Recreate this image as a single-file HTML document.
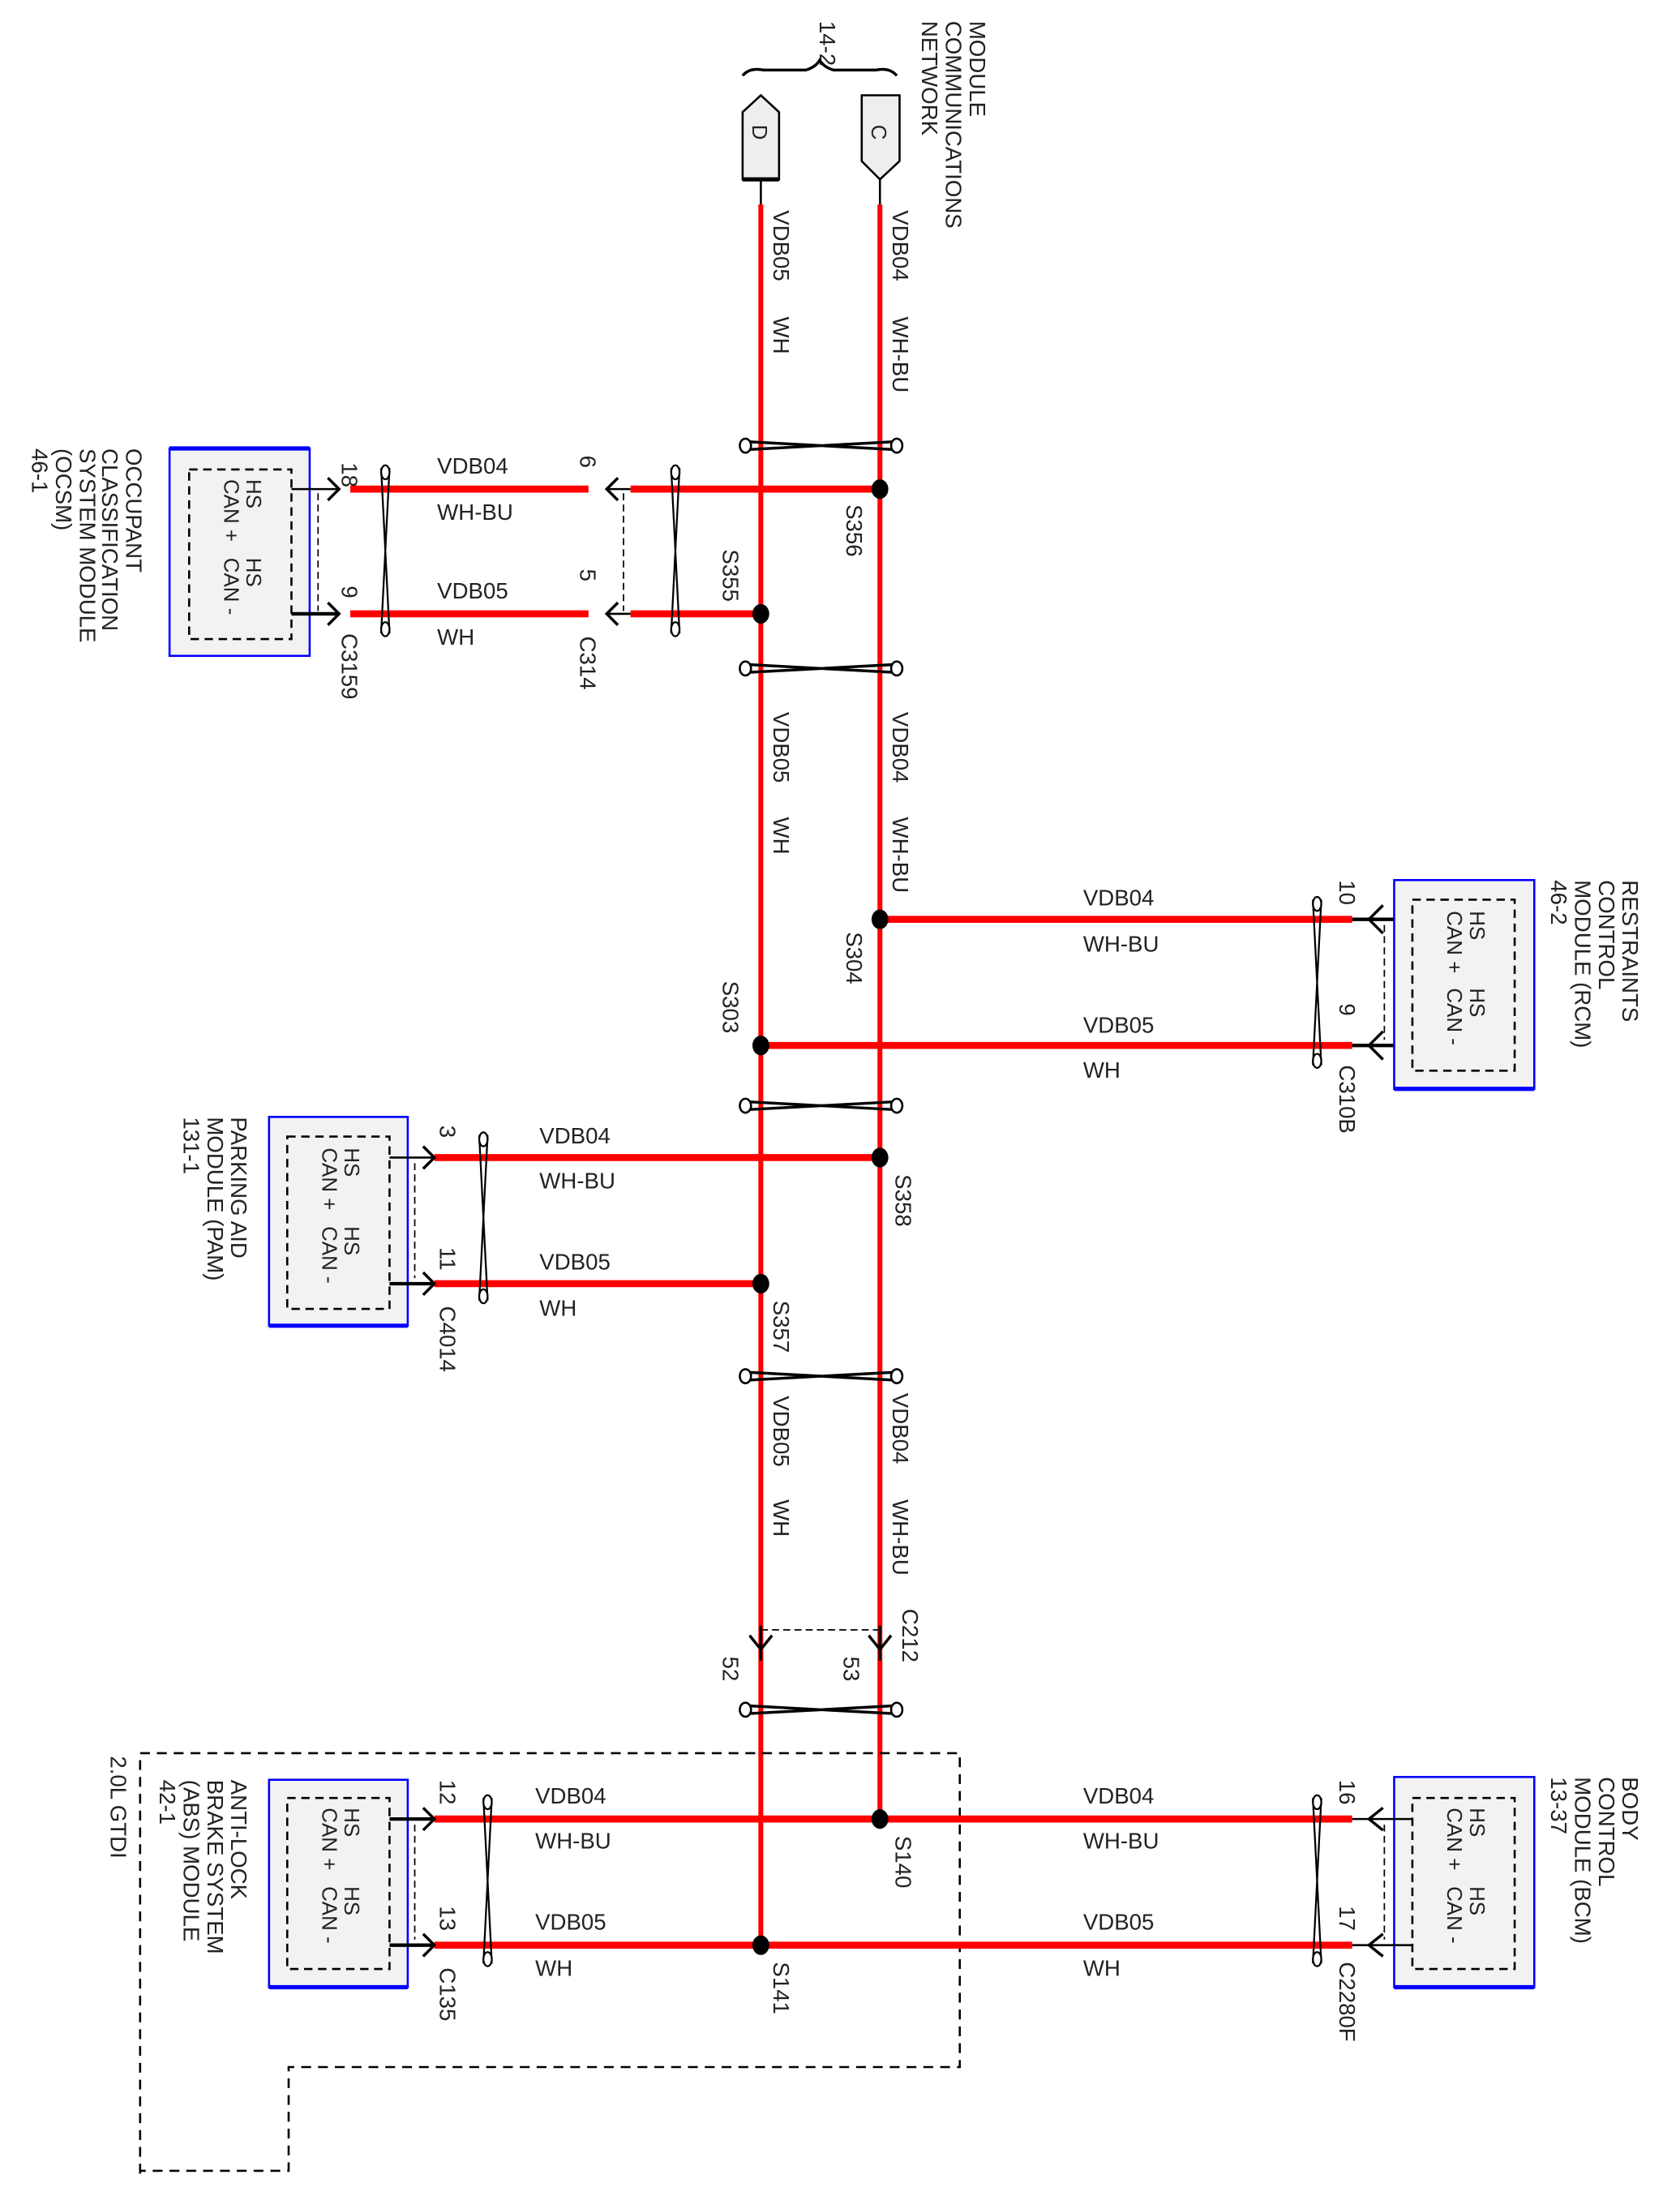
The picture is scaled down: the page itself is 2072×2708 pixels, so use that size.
<!DOCTYPE html>
<html><head><meta charset="utf-8"><style>
html,body{margin:0;padding:0;background:#fff}
svg{display:block}
text{font-family:"Liberation Sans",sans-serif;fill:#222}
</style></head><body>
<svg width="2072" height="2708" viewBox="0 0 1199 1567" preserveAspectRatio="none" xmlns="http://www.w3.org/2000/svg">
<defs>
<g id="tw">
<path d="M0,-3 L112,3 M0,3 L112,-3" stroke="#000" stroke-width="2" fill="none"/>
<ellipse cx="2" cy="0" rx="4" ry="5" fill="#fff" stroke="#000" stroke-width="1.5"/>
<ellipse cx="110" cy="0" rx="4" ry="5" fill="#fff" stroke="#000" stroke-width="1.5"/>
</g>
<g id="tv">
<path d="M-3,0 L3,118 M3,0 L-3,118" stroke="#000" stroke-width="1.3" fill="none"/>
<ellipse cx="0" cy="3" rx="3" ry="5" fill="#fff" stroke="#000" stroke-width="1.3"/>
<ellipse cx="0" cy="115" rx="3" ry="5" fill="#fff" stroke="#000" stroke-width="1.3"/>
</g>
</defs>

<g font-size="16">
<text transform="translate(692,15) rotate(90)">MODULE</text>
<text transform="translate(675,15) rotate(90)">COMMUNICATIONS</text>
<text transform="translate(658,15) rotate(90)">NETWORK</text>
<text transform="translate(585,15) rotate(90)">14-2</text>
</g>
<path d="M530,54 Q535,48 545,50 L575,50 Q582,48 585,43 Q588,48 595,50 L625,50 Q635,48 640,54" stroke="#000" stroke-width="2" fill="none"/>
<path d="M530,80 L543,68 L556,80 L556,128 L530,128 Z" fill="#eee" stroke="#000" stroke-width="1.5"/>
<line x1="530" y1="128" x2="556" y2="128" stroke="#000" stroke-width="3"/>
<text transform="translate(537,89) rotate(90)" font-size="15">D</text>
<path d="M615,68 L642,68 L642,115 L628,128 L615,115 Z" fill="#eee" stroke="#000" stroke-width="1.5"/>
<text transform="translate(622,89) rotate(90)" font-size="15">C</text>
<line x1="543" y1="128" x2="543" y2="146" stroke="#000" stroke-width="1.5"/>
<line x1="628" y1="128" x2="628" y2="146" stroke="#000" stroke-width="1.5"/>

<line x1="543" y1="146" x2="543" y2="1388" stroke="#f00" stroke-width="3.5"/>
<line x1="628" y1="146" x2="628" y2="1298" stroke="#f00" stroke-width="3.5"/>

<g font-size="16">
<text transform="translate(552,150) rotate(90)">VDB05</text>
<text transform="translate(552,226) rotate(90)">WH</text>
<text transform="translate(637,150) rotate(90)">VDB04</text>
<text transform="translate(637,226) rotate(90)">WH-BU</text>
<text transform="translate(552,508) rotate(90)">VDB05</text>
<text transform="translate(552,583) rotate(90)">WH</text>
<text transform="translate(637,508) rotate(90)">VDB04</text>
<text transform="translate(637,583) rotate(90)">WH-BU</text>
<text transform="translate(552,996) rotate(90)">VDB05</text>
<text transform="translate(552,1070) rotate(90)">WH</text>
<text transform="translate(637,994) rotate(90)">VDB04</text>
<text transform="translate(637,1070) rotate(90)">WH-BU</text>
</g>

<use href="#tw" x="530" y="318"/>
<use href="#tw" x="530" y="477"/>
<use href="#tw" x="530" y="789"/>
<use href="#tw" x="530" y="982"/>
<use href="#tw" x="530" y="1220"/>

<rect x="121" y="320" width="100" height="148" fill="#f2f2f2" stroke="#00f" stroke-width="1.5"/>
<line x1="121" y1="320" x2="221" y2="320" stroke="#00f" stroke-width="3"/>
<rect x="135" y="335" width="73" height="121" fill="none" stroke="#000" stroke-width="1.5" stroke-dasharray="6,4"/>
<g font-size="15">
<text transform="translate(176,342) rotate(90)">HS</text>
<text transform="translate(160,342) rotate(90)">CAN +</text>
<text transform="translate(176,398) rotate(90)">HS</text>
<text transform="translate(160,398) rotate(90)">CAN -</text>
</g>
<g font-size="16">
<text transform="translate(90,320) rotate(90)">OCCUPANT</text>
<text transform="translate(73,320) rotate(90)">CLASSIFICATION</text>
<text transform="translate(57,320) rotate(90)">SYSTEM MODULE</text>
<text transform="translate(40,320) rotate(90)">(OCSM)</text>
<text transform="translate(23,320) rotate(90)">46-1</text>
</g>
<line x1="208" y1="349" x2="242" y2="349" stroke="#000" stroke-width="1.5"/>
<line x1="208" y1="438" x2="242" y2="438" stroke="#000" stroke-width="2.5"/>
<path d="M234,341 L242,349 L234,357 M234,430 L242,438 L234,446" stroke="#000" stroke-width="2" fill="none"/>
<line x1="227" y1="352" x2="227" y2="436" stroke="#000" stroke-width="1" stroke-dasharray="5,3"/>
<line x1="250" y1="349" x2="420" y2="349" stroke="#f00" stroke-width="5"/>
<line x1="250" y1="438" x2="420" y2="438" stroke="#f00" stroke-width="5"/>
<path d="M441,341 L433,349 L441,357 M441,430 L433,438 L441,446" stroke="#000" stroke-width="2" fill="none"/>
<line x1="433" y1="349" x2="450" y2="349" stroke="#000" stroke-width="1.5"/>
<line x1="433" y1="438" x2="450" y2="438" stroke="#000" stroke-width="1.5"/>
<line x1="445" y1="352" x2="445" y2="436" stroke="#000" stroke-width="1" stroke-dasharray="5,3"/>
<line x1="450" y1="349" x2="628" y2="349" stroke="#f00" stroke-width="5"/>
<line x1="450" y1="438" x2="543" y2="438" stroke="#f00" stroke-width="5"/>
<use href="#tv" x="275" y="334"/>
<use href="#tv" x="482" y="334"/>
<g font-size="16">
<text x="312" y="338">VDB04</text><text x="312" y="371">WH-BU</text>
<text x="312" y="427">VDB05</text><text x="312" y="460">WH</text>
<text transform="translate(244,330) rotate(90)">18</text>
<text transform="translate(244,418) rotate(90)">9</text>
<text transform="translate(244,452) rotate(90)">C3159</text>
<text transform="translate(414,325) rotate(90)">6</text>
<text transform="translate(414,406) rotate(90)">5</text>
<text transform="translate(414,454) rotate(90)">C314</text>
<text transform="translate(516,392) rotate(90)">S355</text>
<text transform="translate(604,360) rotate(90)">S356</text>
</g>
<ellipse cx="628" cy="349" rx="6" ry="7" fill="#000"/>
<ellipse cx="543" cy="438" rx="6" ry="7" fill="#000"/>

<line x1="628" y1="656" x2="965" y2="656" stroke="#f00" stroke-width="5"/>
<line x1="543" y1="746" x2="965" y2="746" stroke="#f00" stroke-width="5"/>
<ellipse cx="628" cy="656" rx="6" ry="7" fill="#000"/>
<ellipse cx="543" cy="746" rx="6" ry="7" fill="#000"/>
<line x1="965" y1="656" x2="1008" y2="656" stroke="#000" stroke-width="2.5"/>
<line x1="965" y1="746" x2="1008" y2="746" stroke="#000" stroke-width="2.5"/>
<path d="M987,646 L977,656 L987,666 M987,736 L977,746 L987,756" stroke="#000" stroke-width="2" fill="none"/>
<line x1="988" y1="660" x2="988" y2="742" stroke="#000" stroke-width="1" stroke-dasharray="5,3"/>
<rect x="995" y="628" width="100" height="149" fill="#f2f2f2" stroke="#00f" stroke-width="1.5"/>
<line x1="995" y1="777" x2="1095" y2="777" stroke="#00f" stroke-width="3"/>
<rect x="1008" y="642" width="73" height="122" fill="none" stroke="#000" stroke-width="1.5" stroke-dasharray="6,4"/>
<g font-size="15">
<text transform="translate(1049,650) rotate(90)">HS</text>
<text transform="translate(1033,650) rotate(90)">CAN +</text>
<text transform="translate(1049,705) rotate(90)">HS</text>
<text transform="translate(1033,705) rotate(90)">CAN -</text>
</g>
<use href="#tv" x="940" y="642"/>
<g font-size="16">
<text transform="translate(1158,628) rotate(90)">RESTRAINTS</text>
<text transform="translate(1141,628) rotate(90)">CONTROL</text>
<text transform="translate(1124,628) rotate(90)">MODULE (RCM)</text>
<text transform="translate(1107,628) rotate(90)">46-2</text>
<text x="773" y="646">VDB04</text><text x="773" y="679">WH-BU</text>
<text x="773" y="737">VDB05</text><text x="773" y="769">WH</text>
<text transform="translate(956,628) rotate(90)">10</text>
<text transform="translate(956,716) rotate(90)">9</text>
<text transform="translate(956,760) rotate(90)">C310B</text>
<text transform="translate(604,665) rotate(90)">S304</text>
<text transform="translate(516,700) rotate(90)">S303</text>
</g>

<line x1="310" y1="826" x2="628" y2="826" stroke="#f00" stroke-width="5"/>
<line x1="310" y1="916" x2="543" y2="916" stroke="#f00" stroke-width="5"/>
<ellipse cx="628" cy="826" rx="6" ry="7" fill="#000"/>
<ellipse cx="543" cy="916" rx="6" ry="7" fill="#000"/>
<rect x="192" y="797" width="99" height="149" fill="#f2f2f2" stroke="#00f" stroke-width="1.5"/>
<line x1="192" y1="946" x2="291" y2="946" stroke="#00f" stroke-width="3"/>
<rect x="205" y="811" width="73" height="123" fill="none" stroke="#000" stroke-width="1.5" stroke-dasharray="6,4"/>
<g font-size="15">
<text transform="translate(246,819) rotate(90)">HS</text>
<text transform="translate(230,819) rotate(90)">CAN +</text>
<text transform="translate(246,875) rotate(90)">HS</text>
<text transform="translate(230,875) rotate(90)">CAN -</text>
</g>
<line x1="278" y1="826" x2="310" y2="826" stroke="#000" stroke-width="1.5"/>
<line x1="278" y1="916" x2="310" y2="916" stroke="#000" stroke-width="2.5"/>
<path d="M302,818 L310,826 L302,834 M302,908 L310,916 L302,924" stroke="#000" stroke-width="2" fill="none"/>
<line x1="296" y1="830" x2="296" y2="912" stroke="#000" stroke-width="1" stroke-dasharray="5,3"/>
<use href="#tv" x="345" y="810"/>
<g font-size="16">
<text transform="translate(165,797) rotate(90)">PARKING AID</text>
<text transform="translate(148,797) rotate(90)">MODULE (PAM)</text>
<text transform="translate(131,797) rotate(90)">131-1</text>
<text x="385" y="816">VDB04</text><text x="385" y="848">WH-BU</text>
<text x="385" y="906">VDB05</text><text x="385" y="939">WH</text>
<text transform="translate(314,803) rotate(90)">3</text>
<text transform="translate(314,890) rotate(90)">11</text>
<text transform="translate(314,932) rotate(90)">C4014</text>
<text transform="translate(639,838) rotate(90)">S358</text>
<text transform="translate(552,928) rotate(90)">S357</text>
</g>

<line x1="543" y1="1163" x2="628" y2="1163" stroke="#000" stroke-width="1" stroke-dasharray="5,3"/>
<path d="M535,1167 L543,1177 L551,1167 M620,1167 L628,1177 L636,1167" stroke="#000" stroke-width="2" fill="none"/>
<line x1="543" y1="1160" x2="543" y2="1185" stroke="#000" stroke-width="2"/>
<line x1="628" y1="1160" x2="628" y2="1185" stroke="#000" stroke-width="2"/>
<g font-size="16">
<text transform="translate(516,1182) rotate(90)">52</text>
<text transform="translate(602,1182) rotate(90)">53</text>
<text transform="translate(644,1148) rotate(90)">C212</text>
</g>

<path d="M100,1551 L100,1251 L685,1251 L685,1475 L206,1475 L206,1549 L100,1549" fill="none" stroke="#000" stroke-width="1.5" stroke-dasharray="7,5"/>
<text transform="translate(79,1253) rotate(90)" font-size="16">2.0L GTDI</text>

<line x1="310" y1="1298" x2="965" y2="1298" stroke="#f00" stroke-width="5"/>
<line x1="310" y1="1388" x2="965" y2="1388" stroke="#f00" stroke-width="5"/>
<ellipse cx="628" cy="1298" rx="6" ry="7" fill="#000"/>
<ellipse cx="543" cy="1388" rx="6" ry="7" fill="#000"/>
<rect x="192" y="1270" width="99" height="148" fill="#f2f2f2" stroke="#00f" stroke-width="1.5"/>
<line x1="192" y1="1418" x2="291" y2="1418" stroke="#00f" stroke-width="3"/>
<rect x="205" y="1283" width="73" height="122" fill="none" stroke="#000" stroke-width="1.5" stroke-dasharray="6,4"/>
<g font-size="15">
<text transform="translate(246,1290) rotate(90)">HS</text>
<text transform="translate(230,1290) rotate(90)">CAN +</text>
<text transform="translate(246,1346) rotate(90)">HS</text>
<text transform="translate(230,1346) rotate(90)">CAN -</text>
</g>
<line x1="278" y1="1298" x2="310" y2="1298" stroke="#000" stroke-width="2.5"/>
<line x1="278" y1="1388" x2="310" y2="1388" stroke="#000" stroke-width="2.5"/>
<path d="M302,1290 L310,1298 L302,1306 M302,1380 L310,1388 L302,1396" stroke="#000" stroke-width="2" fill="none"/>
<line x1="296" y1="1302" x2="296" y2="1384" stroke="#000" stroke-width="1" stroke-dasharray="5,3"/>
<use href="#tv" x="348" y="1283"/>
<rect x="995" y="1268" width="100" height="150" fill="#f2f2f2" stroke="#00f" stroke-width="1.5"/>
<line x1="995" y1="1418" x2="1095" y2="1418" stroke="#00f" stroke-width="3"/>
<rect x="1008" y="1283" width="73" height="122" fill="none" stroke="#000" stroke-width="1.5" stroke-dasharray="6,4"/>
<g font-size="15">
<text transform="translate(1049,1290) rotate(90)">HS</text>
<text transform="translate(1033,1290) rotate(90)">CAN +</text>
<text transform="translate(1049,1346) rotate(90)">HS</text>
<text transform="translate(1033,1346) rotate(90)">CAN -</text>
</g>
<line x1="965" y1="1298" x2="1008" y2="1298" stroke="#000" stroke-width="1.5"/>
<line x1="965" y1="1388" x2="1008" y2="1388" stroke="#000" stroke-width="1.5"/>
<path d="M987,1290 L977,1298 L987,1306 M987,1380 L977,1388 L987,1396" stroke="#000" stroke-width="2" fill="none"/>
<line x1="988" y1="1302" x2="988" y2="1384" stroke="#000" stroke-width="1" stroke-dasharray="5,3"/>
<use href="#tv" x="940" y="1283"/>
<g font-size="16">
<text transform="translate(165,1270) rotate(90)">ANTI-LOCK</text>
<text transform="translate(148,1270) rotate(90)">BRAKE SYSTEM</text>
<text transform="translate(131,1270) rotate(90)">(ABS) MODULE</text>
<text transform="translate(114,1270) rotate(90)">42-1</text>
<text transform="translate(1158,1268) rotate(90)">BODY</text>
<text transform="translate(1141,1268) rotate(90)">CONTROL</text>
<text transform="translate(1124,1268) rotate(90)">MODULE (BCM)</text>
<text transform="translate(1107,1268) rotate(90)">13-37</text>
<text x="382" y="1287">VDB04</text><text x="382" y="1319">WH-BU</text>
<text x="382" y="1377">VDB05</text><text x="382" y="1410">WH</text>
<text x="773" y="1287">VDB04</text><text x="773" y="1319">WH-BU</text>
<text x="773" y="1377">VDB05</text><text x="773" y="1410">WH</text>
<text transform="translate(314,1270) rotate(90)">12</text>
<text transform="translate(314,1360) rotate(90)">13</text>
<text transform="translate(314,1404) rotate(90)">C135</text>
<text transform="translate(956,1270) rotate(90)">16</text>
<text transform="translate(956,1360) rotate(90)">17</text>
<text transform="translate(956,1400) rotate(90)">C2280F</text>
<text transform="translate(639,1310) rotate(90)">S140</text>
<text transform="translate(552,1400) rotate(90)">S141</text>
</g>
</svg>
</body></html>
